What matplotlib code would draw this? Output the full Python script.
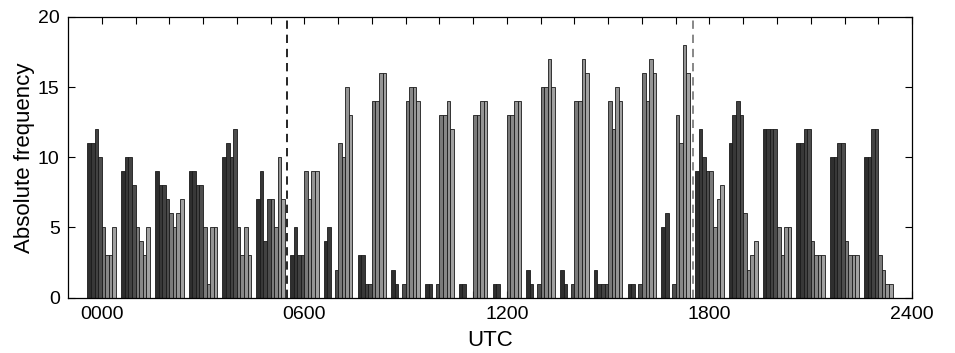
import matplotlib
matplotlib.use("Agg")
import matplotlib.pyplot as plt
import numpy as np

plt.rcParams['font.family'] = ['Liberation Sans', 'DejaVu Sans']

hours = list(range(24))
tick_hours = [0, 6, 12, 18, 24]
tick_labels = ["0000", "0600", "1200", "1800", "2400"]

# 8 bars per hour (dark -> light)
s1 = [11, 9, 9, 9, 10, 7, 3, 4, 3, 2, 1, 1, 1, 2, 2, 2, 1, 5, 9, 11, 12, 11, 10, 10]
s2 = [11, 10, 8, 9, 11, 9, 5, 5, 3, 1, 1, 1, 1, 1, 1, 1, 1, 6, 12, 13, 12, 11, 10, 10]
s3 = [12, 10, 8, 8, 10, 4, 3, 0, 1, 0, 0, 0, 0, 0, 0, 1, 0, 0, 10, 14, 12, 12, 11, 12]
s4 = [10, 8, 7, 8, 12, 7, 3, 2, 1, 1, 1, 0, 0, 1, 1, 1, 1, 1, 9, 13, 12, 12, 11, 12]
s5 = [5, 5, 6, 5, 5, 7, 9, 11, 14, 14, 13, 13, 13, 15, 14, 14, 16, 13, 9, 6, 5, 4, 4, 3]
s6 = [3, 4, 5, 1, 3, 5, 7, 10, 14, 15, 13, 13, 13, 15, 14, 12, 14, 11, 5, 2, 3, 3, 3, 2]
s7 = [3, 3, 6, 5, 5, 10, 9, 15, 16, 15, 14, 14, 14, 17, 17, 15, 17, 18, 7, 3, 5, 3, 3, 1]
s8 = [5, 5, 7, 5, 3, 7, 9, 13, 16, 14, 12, 14, 14, 15, 16, 14, 16, 16, 8, 4, 5, 3, 3, 1]
series = [s1, s2, s3, s4, s5, s6, s7, s8]
greys = ['0.18', '0.22', '0.26', '0.30', '0.48', '0.53', '0.58', '0.63']

sunrise, sunset = 5.5, 17.5

fig = plt.figure(figsize=(9.55, 3.53), dpi=100)
ax = fig.add_axes([0.0712, 0.157, 0.8838, 0.795])

w = 0.106
x = np.array(hours, dtype=float)
for i, (vals, g) in enumerate(zip(series, greys)):
    ax.bar(x + (i - 3.5) * w, vals, width=w, color=g, edgecolor='0.1',
           linewidth=0.6, zorder=2)

ax.axvline(sunrise, color='black', linestyle=(0, (5, 3.5)), linewidth=1.2, zorder=3)
ax.axvline(sunset, color='0.45', linestyle=(0, (5, 3.5)), linewidth=1.2, zorder=3)

ax.set_xlim(-1, 24)
ax.set_ylim(0, 20)
ax.set_xticks(range(0, 25))
ax.set_xticklabels([tick_labels[tick_hours.index(h)] if h in tick_hours else "" for h in range(25)])
ax.set_yticks([0, 5, 10, 15, 20])
ax.tick_params(axis='both', direction='in', length=5, width=0.8, labelsize=14,
               top=True, right=True, pad=6)
for sp in ax.spines.values():
    sp.set_linewidth(0.9)
ax.set_xlabel("UTC", fontsize=16, labelpad=5)
ax.set_ylabel("Absolute frequency", fontsize=16, labelpad=2)

fig.savefig("out.png", dpi=100)
